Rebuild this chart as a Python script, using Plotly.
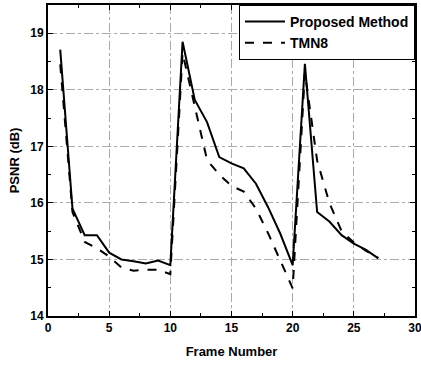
import plotly.graph_objects as go

frames = list(range(1, 28))
proposed = [18.71, 15.90, 15.43, 15.43, 15.12, 15.00, 14.97, 14.93, 14.98, 14.90,
            18.85, 17.82, 17.43, 16.81, 16.70, 16.61, 16.34, 15.92, 15.45, 14.90,
            18.46, 15.84, 15.67, 15.43, 15.28, 15.17, 15.02]
tmn8 = [18.45, 15.84, 15.31, 15.20, 15.05, 14.86, 14.80, 14.82, 14.82, 14.74,
        18.65, 17.70, 16.76, 16.50, 16.30, 16.20, 15.90, 15.46, 14.96, 14.49,
        18.30, 16.75, 16.00, 15.50, 15.30, 15.15, 15.03]

x_ticks = [0, 5, 10, 15, 20, 25, 30]
y_ticks = [14, 15, 16, 17, 18, 19]

fam = "Liberation Sans, Arial, sans-serif"
font_main = dict(family=fam, size=12, color="black", weight="bold")

fig = go.Figure()
fig.add_trace(go.Scatter(x=frames, y=proposed, mode="lines", name="Proposed Method",
                         line=dict(color="black", width=2)))
fig.add_trace(go.Scatter(x=frames, y=tmn8, mode="lines", name="TMN8",
                         line=dict(color="black", width=2, dash="dash")))

axis_common = dict(
    showline=True, linecolor="black", linewidth=2, mirror="ticks",
    ticks="inside", ticklen=5, tickwidth=1, tickcolor="black",
    showgrid=True, gridcolor="#aaaaaa", gridwidth=1, griddash="dashdot",
    zeroline=False, tickfont=font_main, automargin=False,
    ticklabeloverflow="allow",
)

fig.update_xaxes(range=[0, 30], tickvals=x_ticks, ticktext=[str(v) for v in x_ticks],
                 minor=dict(dtick=2.5, ticks="inside", ticklen=3, tickcolor="black", showgrid=False),
                 title=dict(text="Frame Number", font=dict(family=fam, size=13, color="black", weight="bold"), standoff=12),
                 **axis_common)
fig.update_yaxes(range=[14, 19.5], tickvals=y_ticks, ticktext=[str(v) for v in y_ticks],
                 minor=dict(dtick=0.5, ticks="inside", ticklen=3, tickcolor="black", showgrid=False),
                 title=dict(text="PSNR (dB)", font=dict(family=fam, size=13, color="black", weight="bold"), standoff=8),
                 **axis_common)

fig.update_layout(
    width=421, height=365,
    margin=dict(l=48, r=6, t=5, b=49),
    paper_bgcolor="white", plot_bgcolor="white",
    showlegend=True,
    legend=dict(x=1, y=1, xanchor="right", yanchor="top",
                bgcolor="white", bordercolor="black", borderwidth=1,
                font=dict(family=fam, size=14, color="black", weight="bold"),
                tracegroupgap=0, itemwidth=40),
)

fig.write_html("out.html")
